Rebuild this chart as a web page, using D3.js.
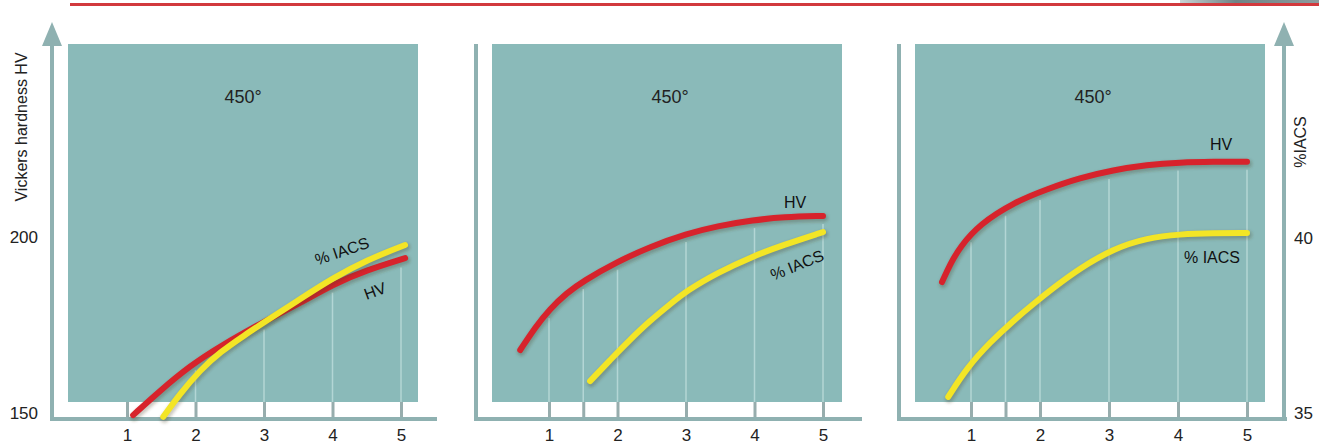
<!DOCTYPE html>
<html>
<head>
<meta charset="utf-8">
<script src="https://cdn.jsdelivr.net/npm/d3@7"></script>
<style>
  body { margin: 0; background: #fff; }
  svg { display: block; font-family: "Liberation Sans", Arial, sans-serif; }
</style>
</head>
<body>
<div id="container"></div>
<script>
const width = 1319,
  height = 444;

/* DATA */
const xTicks = [1, 2, 3, 4, 5]
const hvTicks = [150, 200]
const iacsTicks = [35, 40]
const panelTitles = ["450°", "450°", "450°"]

// [time, value]
const hvPanel1 = [[1.09, 149.4], [1.48, 156.3], [1.92, 163.4], [2.36, 169.0], [3.01, 176.1], [3.53, 181.25], [4.01, 186.6], [4.5, 190.6], [5.06, 194.0]]
const iacsPanel1 = [[1.53, 34.89], [1.77, 35.54], [2.07, 36.23], [2.36, 36.74], [2.72, 37.23], [3.01, 37.6], [3.53, 38.26], [4.01, 38.86], [4.5, 39.37], [5.06, 39.8]]

const hvPanel2 = [[0.58, 167.9], [0.8, 174.4], [1.01, 179.5], [1.26, 184.1], [1.5, 187.5], [1.99, 192.9], [2.47, 197.2], [3.01, 200.9], [3.45, 203.1], [3.99, 204.8], [4.42, 205.7], [5.0, 206.0]]
const iacsPanel2 = [[1.6, 35.91], [1.89, 36.51], [2.18, 37.09], [2.47, 37.63], [2.77, 38.11], [3.01, 38.49], [3.45, 39.0], [3.99, 39.49], [4.42, 39.8], [5.0, 40.17]]

const hvPanel3 = [[0.58, 187.2], [0.7, 192.3], [0.84, 197.2], [1.13, 203.7], [1.61, 209.7], [2.1, 213.6], [2.58, 216.8], [3.06, 219.0], [3.55, 220.5], [4.03, 221.2], [4.51, 221.4], [5.0, 221.4]]
const iacsPanel3 = [[0.67, 35.46], [0.94, 36.29], [1.28, 37.03], [1.61, 37.63], [1.9, 38.11], [2.19, 38.57], [2.58, 39.14], [3.06, 39.69], [3.55, 40.0], [4.03, 40.11], [4.51, 40.14], [5.0, 40.14]]

const hvSeries = [hvPanel1, hvPanel2, hvPanel3]
const iacsSeries = [iacsPanel1, iacsPanel2, iacsPanel3]

/* LAYOUT */
const rectTop = 44, rectBottom = 402, axisY = 419
const panels = [
  { axisX: 52, rectX0: 68, rectX1: 418, axisX1: 437, r: [127, 401], arrow: true, minor: [] },
  { axisX: 476, rectX0: 492, rectX1: 842, axisX1: 862, r: [549, 823], arrow: false, minor: [1.5] },
  { axisX: 899, rectX0: 915, rectX1: 1265, axisX1: 1287, r: [971, 1247], arrow: false, minor: [1.5] }
]
const titleX = [243, 670, 1093]
const hvLabel = [{ x: 375, y: 291, a: -20 }, { x: 795, y: 202, a: 0 }, { x: 1221, y: 144, a: 0 }]
const iacsLabel = [{ x: 342, y: 251, a: -19 }, { x: 797, y: 265, a: -22 }, { x: 1212, y: 257, a: 0 }]

const teal = "#8abab9", axisCol = "#8fb1b1", red = "#d7232c", yellow = "#f3e526"

/* SCALES */
const yHV = d3.scaleLinear().domain([150, 200]).range([413, 237])
const yIACS = d3.scaleLinear().domain([35, 40]).range([413, 238])

const svg = d3.select("#container").append("svg")
  .attr("width", width)
  .attr("height", height)

const defs = svg.append("defs")
const grad = defs.append("linearGradient").attr("id", "corner")
grad.append("stop").attr("offset", "0%").attr("stop-color", "#c9d3d4")
grad.append("stop").attr("offset", "40%").attr("stop-color", "#6f8486")
grad.append("stop").attr("offset", "100%").attr("stop-color", "#8c9c9e")
defs.append("filter").attr("id", "soft")
  .append("feGaussianBlur").attr("stdDeviation", 1.5)

// header rule
svg.append("rect").attr("x", 1180).attr("y", 0).attr("width", 139).attr("height", 4).attr("fill", "url(#corner)")
svg.append("line")
  .attr("x1", 70).attr("x2", width).attr("y1", 4.5).attr("y2", 4.5)
  .attr("stroke", "#d2393d").attr("stroke-width", 3)

// linear lookup along a series, used to stop the drop lines at the HV curve
function valueAt(series, t) {
  const i = d3.bisector(d => d[0]).center(series, t)
  const j = t < series[i][0] ? Math.max(i - 1, 0) : Math.min(i + 1, series.length - 1)
  const a = series[Math.min(i, j)], b = series[Math.max(i, j)]
  if (a[0] === b[0]) return a[1]
  return a[1] + (b[1] - a[1]) * (t - a[0]) / (b[0] - a[0])
}

panels.forEach((p, k) => {
  const g = svg.append("g").attr("class", "panel")
  const x = d3.scaleLinear().domain([1, 5]).range(p.r)
  const allTicks = xTicks.concat(p.minor).sort((a, b) => a - b)

  g.append("rect")
    .attr("x", p.rectX0).attr("y", rectTop)
    .attr("width", p.rectX1 - p.rectX0).attr("height", rectBottom - rectTop)
    .attr("fill", teal)

  // light drop lines under the HV curve
  const hv = hvSeries[k]
  g.selectAll("line.drop")
    .data(allTicks.filter(t => t >= hv[0][0]))
    .join("line")
    .attr("class", "drop")
    .attr("x1", d => x(d)).attr("x2", d => x(d))
    .attr("y1", d => Math.max(yHV(valueAt(hv, d)) + 8, rectTop))
    .attr("y2", rectBottom)
    .attr("stroke", "#b3d6d5").attr("stroke-width", 1.5)

  // x axis
  const xAxis = d3.axisBottom(x)
    .tickValues(allTicks)
    .tickSize(-(axisY - rectBottom))
    .tickPadding(10)
    .tickFormat(d => Number.isInteger(d) ? d : "")

  const ax = g.append("g")
    .attr("class", "x-axis")
    .attr("transform", `translate(0,${axisY})`)
    .call(xAxis)
  ax.select(".domain").remove()
  ax.selectAll(".tick line").attr("stroke", "#97adad").attr("stroke-width", 3)
  ax.selectAll(".tick text").attr("fill", "#222").attr("font-size", 17)
    .attr("font-family", "Liberation Sans, Arial, sans-serif")

  g.append("line")
    .attr("x1", p.axisX - 2).attr("x2", p.axisX1)
    .attr("y1", axisY).attr("y2", axisY)
    .attr("stroke", axisCol).attr("stroke-width", 4)

  // left vertical
  g.append("line")
    .attr("x1", p.axisX).attr("x2", p.axisX)
    .attr("y1", p.arrow ? 40 : rectTop).attr("y2", axisY + 2)
    .attr("stroke", axisCol).attr("stroke-width", 4)
  if (p.arrow) {
    g.append("path")
      .attr("d", `M${p.axisX},22 L${p.axisX + 10},46 L${p.axisX - 10},46 Z`)
      .attr("fill", axisCol)
  }

  // panel title
  g.append("text")
    .attr("x", titleX[k]).attr("y", 97)
    .attr("dy", "0.35em")
    .attr("text-anchor", "middle")
    .attr("font-size", 18).attr("fill", "#222")
    .text(panelTitles[k])

  // curves
  const lineHV = d3.line().x(d => x(d[0])).y(d => yHV(d[1])).curve(d3.curveBasis)
  const lineIACS = d3.line().x(d => x(d[0])).y(d => yIACS(d[1])).curve(d3.curveBasis)

  const curves = [
    { d: lineIACS(iacsSeries[k]), c: yellow },
    { d: lineHV(hvSeries[k]), c: red }
  ]
  // panel 1: red sits under yellow on the upper part, so draw red first there
  if (k === 0) curves.reverse()

  curves.forEach(cv => {
    g.append("path")
      .attr("d", cv.d)
      .attr("fill", "none")
      .attr("stroke", "rgba(70,60,40,0.28)")
      .attr("stroke-width", 8)
      .attr("stroke-linecap", "round")
      .attr("transform", "translate(1,2)")
      .attr("filter", "url(#soft)")
    g.append("path")
      .attr("d", cv.d)
      .attr("fill", "none")
      .attr("stroke", cv.c)
      .attr("stroke-width", 6)
      .attr("stroke-linecap", "round")
  })

  const hl = hvLabel[k], il = iacsLabel[k]
  g.append("text")
    .attr("transform", `translate(${hl.x},${hl.y}) rotate(${hl.a})`)
    .attr("dy", "0.35em").attr("text-anchor", "middle")
    .attr("font-size", 16).attr("fill", "#111")
    .text("HV")
  g.append("text")
    .attr("transform", `translate(${il.x},${il.y}) rotate(${il.a})`)
    .attr("dy", "0.35em").attr("text-anchor", "middle")
    .attr("font-size", 16).attr("fill", "#111")
    .text("% IACS")
})

/* Y AXES */
const yLeft = svg.append("g")
  .attr("class", "y-axis")
  .attr("transform", "translate(52,0)")
  .call(d3.axisLeft(yHV).tickValues(hvTicks).tickSize(0).tickPadding(14).tickFormat(d3.format("d")))
yLeft.select(".domain").remove()
yLeft.selectAll("text").attr("font-size", 17).attr("fill", "#222")
  .attr("font-family", "Liberation Sans, Arial, sans-serif")

svg.append("text")
  .attr("class", "yAxisLabel")
  .attr("transform", "translate(21,127) rotate(-90)")
  .attr("dy", "0.35em")
  .attr("text-anchor", "middle")
  .attr("font-size", 16).attr("fill", "#222")
  .text("Vickers hardness HV")

// right axis with arrow
svg.append("line")
  .attr("x1", 1284).attr("x2", 1284).attr("y1", 40).attr("y2", axisY)
  .attr("stroke", axisCol).attr("stroke-width", 4)
svg.append("path")
  .attr("d", "M1284,22 L1294,46 L1274,46 Z")
  .attr("fill", axisCol)

const yRight = svg.append("g")
  .attr("class", "y-axis-right")
  .attr("transform", "translate(1284,0)")
  .call(d3.axisRight(yIACS).tickValues(iacsTicks).tickSize(0).tickPadding(10).tickFormat(d3.format("d")))
yRight.select(".domain").remove()
yRight.selectAll("text").attr("font-size", 17).attr("fill", "#222")
  .attr("font-family", "Liberation Sans, Arial, sans-serif")

svg.append("text")
  .attr("class", "yAxisLabel")
  .attr("transform", "translate(1300,142) rotate(-90)")
  .attr("dy", "0.35em")
  .attr("text-anchor", "middle")
  .attr("font-size", 16).attr("fill", "#222")
  .text("%IACS")
</script>
</body>
</html>
